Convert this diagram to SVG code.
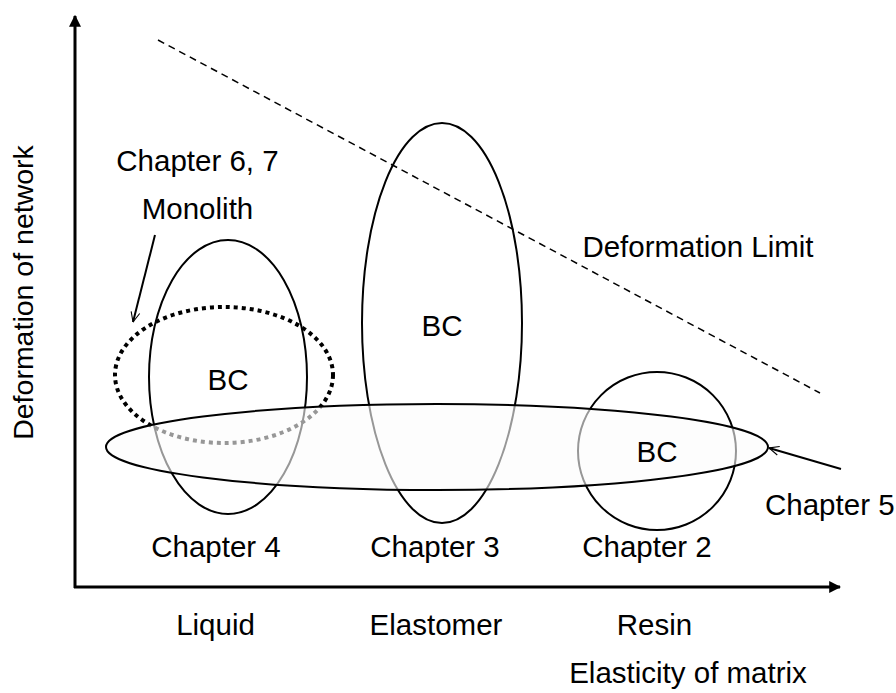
<svg xmlns="http://www.w3.org/2000/svg" width="896" height="693" viewBox="0 0 896 693">
<defs>
<style>
text{font-family:"Liberation Sans",Arial,sans-serif;font-size:29.5px;fill:#000;text-anchor:middle}
.sh{fill:none;stroke:#000;stroke-width:2}
</style>
<marker id="ax" viewBox="0 0 10 10" refX="9" refY="5" markerWidth="4" markerHeight="4" orient="auto" markerUnits="strokeWidth"><path d="M0,0 L10,5 L0,10 Z" fill="#000"/></marker>
<marker id="op" viewBox="0 0 20 20" refX="19" refY="10" markerWidth="11" markerHeight="11" orient="auto" markerUnits="userSpaceOnUse"><path d="M1,2 L19,10 L1,18" fill="none" stroke="#000" stroke-width="2"/></marker>
</defs>
<rect width="896" height="693" fill="#fff"/>
<g id="axes">
<line x1="75" y1="588" x2="75" y2="16" stroke="#000" stroke-width="3" marker-end="url(#ax)"/>
<line x1="74" y1="587" x2="840" y2="587" stroke="#000" stroke-width="3" marker-end="url(#ax)"/>
</g>
<g id="limit">
<line x1="158" y1="40" x2="820" y2="393" stroke="#000" stroke-width="1.5" stroke-dasharray="7,5"/>
<text x="698" y="257">Deformation Limit</text>
</g>
<g id="chapter3">
<ellipse class="sh" cx="442" cy="323" rx="80" ry="200"/>
<text x="442" y="336">BC</text>
<text x="435" y="557">Chapter 3</text>
</g>
<g id="chapter4">
<ellipse class="sh" cx="228" cy="377" rx="79" ry="137"/>
<text x="228" y="390">BC</text>
<text x="216" y="557">Chapter 4</text>
</g>
<g id="monolith">
<ellipse cx="224" cy="375" rx="109" ry="68" fill="none" stroke="#000" stroke-width="4" stroke-dasharray="4,4"/>
<text x="197.5" y="171">Chapter 6, 7</text>
<text x="197.5" y="219">Monolith</text>
</g>
<g id="chapter2">
<circle class="sh" cx="657" cy="451" r="79"/>
<text x="647" y="557">Chapter 2</text>
</g>
<g id="chapter5">
<ellipse cx="437" cy="447" rx="331" ry="43" fill="#fbfbfb" fill-opacity="0.6" stroke="#000" stroke-width="2"/>
<text x="765" y="515" style="text-anchor:start">Chapter 5</text>
</g>
<g id="chapter2-label">
<text x="657" y="462">BC</text>
</g>
<g id="connectors">
<line x1="155" y1="235" x2="133" y2="322" stroke="#000" stroke-width="2" marker-end="url(#op)"/>
<line x1="841" y1="469" x2="769" y2="448" stroke="#000" stroke-width="2" marker-end="url(#op)"/>
</g>
<g id="labels">
<text x="215.5" y="635">Liquid</text>
<text x="436" y="635">Elastomer</text>
<text x="654.5" y="635">Resin</text>
<text x="688" y="683">Elasticity of matrix</text>
<text transform="translate(33,292.5) rotate(-90)" style="font-size:28.5px">Deformation of network</text>
</g>
</svg>
